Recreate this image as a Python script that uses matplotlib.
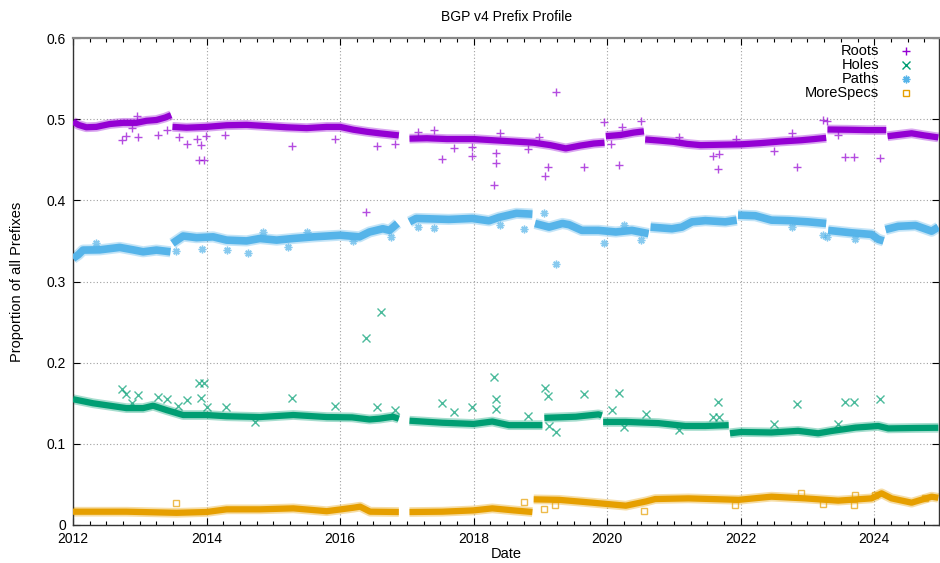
import numpy as np
import matplotlib
matplotlib.use("Agg")
import matplotlib.pyplot as plt
from matplotlib.ticker import MultipleLocator, FixedLocator

plt.rcParams['font.family'] = ['Liberation Sans', 'DejaVu Sans']

nan = np.nan

# main bands (decimal years); nan marks a break / step
roots_year = [2012.0, 2012.08, 2012.2, 2012.35, 2012.55, 2012.75, 2012.95, 2013.1, 2013.25, 2013.38, 2013.47, nan,
              2013.49, 2013.7, 2014.0, 2014.3, 2014.6, 2014.9, 2015.2, 2015.5, 2015.8, 2016.0, 2016.2, 2016.4, 2016.6, 2016.88, nan,
              2017.04, 2017.3, 2017.6, 2018.0, 2018.3, 2018.6, 2018.9, 2019.15, 2019.38, 2019.6, 2019.8, 2019.96, nan,
              2019.98, 2020.2, 2020.4, 2020.55, nan,
              2020.57, 2020.8, 2021.0, 2021.2, 2021.4, 2021.7, 2022.0, 2022.3, 2022.6, 2022.9, 2023.1, 2023.28, nan,
              2023.3, 2023.6, 2023.9, 2024.18, nan,
              2024.2, 2024.4, 2024.56, 2024.75, 2024.96]
roots_val = [0.497, 0.493, 0.490, 0.4905, 0.494, 0.4955, 0.4955, 0.498, 0.499, 0.502, 0.505, nan,
             0.4905, 0.4895, 0.4905, 0.4925, 0.493, 0.4915, 0.490, 0.489, 0.4905, 0.4905, 0.487, 0.4845, 0.4825, 0.480, nan,
             0.476, 0.4765, 0.4755, 0.4755, 0.474, 0.4725, 0.471, 0.468, 0.464, 0.4675, 0.470, 0.471, nan,
             0.479, 0.4805, 0.4835, 0.485, nan,
             0.475, 0.4735, 0.472, 0.4695, 0.468, 0.4685, 0.469, 0.4705, 0.4725, 0.474, 0.4755, 0.477, nan,
             0.4873, 0.487, 0.4865, 0.4865, nan,
             0.479, 0.481, 0.4826, 0.480, 0.4775]

paths_year = [2012.0, 2012.08, 2012.15, 2012.4, 2012.7, 2012.9, 2013.05, 2013.25, 2013.46, nan,
              2013.49, 2013.65, 2013.85, 2014.1, 2014.3, 2014.6, 2014.8, 2015.05, 2015.3, 2015.6, 2016.0, 2016.29, 2016.44, 2016.64, 2016.74, 2016.86, nan,
              2017.04, 2017.14, 2017.63, 2017.98, 2018.23, 2018.38, 2018.64, 2018.88, nan,
              2018.92, 2019.13, 2019.33, 2019.43, 2019.62, 2019.87, 2020.13, 2020.37, 2020.62, nan,
              2020.65, 2020.97, 2021.12, 2021.27, 2021.47, 2021.77, 2021.94, nan,
              2021.96, 2022.22, 2022.46, 2022.72, 2023.01, 2023.28, nan,
              2023.31, 2023.66, 2023.96, 2024.06, 2024.14, nan,
              2024.17, 2024.36, 2024.62, 2024.86, 2024.96]
paths_val = [0.3284, 0.333, 0.3387, 0.339, 0.342, 0.339, 0.3366, 0.3387, 0.3366, nan,
             0.347, 0.356, 0.354, 0.355, 0.351, 0.350, 0.353, 0.351, 0.353, 0.355, 0.357, 0.355, 0.361, 0.365, 0.363, 0.3715, nan,
             0.3735, 0.3777, 0.3765, 0.3777, 0.3748, 0.379, 0.384, 0.383, nan,
             0.3715, 0.367, 0.3715, 0.370, 0.363, 0.363, 0.361, 0.363, 0.359, nan,
             0.367, 0.365, 0.367, 0.3735, 0.375, 0.3735, 0.3756, nan,
             0.3818, 0.381, 0.3756, 0.375, 0.3735, 0.3715, nan,
             0.363, 0.360, 0.358, 0.352, 0.350, nan,
             0.364, 0.368, 0.369, 0.362, 0.367]

holes_year = [2012.0, 2012.3, 2012.55, 2012.8, 2013.05, 2013.2, 2013.4, 2013.65, 2014.0, 2014.3, 2014.8, 2015.3, 2015.8, 2016.18, 2016.44, 2016.59, 2016.79, 2016.88, nan,
              2017.04, 2017.53, 2018.0, 2018.28, 2018.53, 2019.03, nan,
              2019.06, 2019.53, 2019.87, 2019.92, nan,
              2019.94, 2020.28, 2020.77, 2021.17, 2021.47, 2021.82, nan,
              2021.84, 2022.01, 2022.46, 2022.86, 2023.16, 2023.36, 2023.72, 2024.06, 2024.21, 2024.6, 2024.96]
holes_val = [0.155, 0.150, 0.147, 0.144, 0.144, 0.147, 0.1416, 0.1355, 0.1355, 0.134, 0.133, 0.1355, 0.133, 0.1326, 0.130, 0.131, 0.1334, 0.131, nan,
             0.1285, 0.126, 0.1245, 0.1275, 0.123, 0.123, nan,
             0.132, 0.1334, 0.1363, 0.135, nan,
             0.127, 0.127, 0.1255, 0.122, 0.122, 0.123, nan,
             0.113, 0.1146, 0.114, 0.116, 0.113, 0.1158, 0.120, 0.122, 0.119, 0.1195, 0.1198]

more_year = [2012.0, 2012.8, 2013.55, 2014.0, 2014.3, 2014.8, 2015.3, 2015.8, 2016.2, 2016.3, 2016.45, 2016.88, nan,
             2017.04, 2017.53, 2018.0, 2018.28, 2018.6, 2018.88, nan,
             2018.9, 2019.28, 2019.78, 2020.28, 2020.58, 2020.72, 2021.22, 2021.97, 2022.46, 2022.96, 2023.46, 2023.96, 2024.11, 2024.26, 2024.56, 2024.86, 2024.96]
more_val = [0.0164, 0.0164, 0.015, 0.016, 0.0193, 0.0193, 0.0205, 0.017, 0.0213, 0.0226, 0.0164, 0.016, nan,
            0.016, 0.0164, 0.018, 0.0205, 0.018, 0.016, nan,
            0.0316, 0.031, 0.0275, 0.0238, 0.029, 0.032, 0.0328, 0.031, 0.0349, 0.0328, 0.030, 0.0328, 0.039, 0.0328, 0.0275, 0.0349, 0.0335]

# scattered single-day outliers
roots_out_year = [2012.74, 2012.8, 2012.98, 2012.88, 2012.96, 2013.27, 2013.41, 2013.59, 2013.7, 2013.85, 2013.91, 2013.89,
                  2013.96, 2013.99, 2014.28, 2015.28, 2015.92, 2016.56, 2016.39, 2016.83, 2017.17, 2017.4, 2017.52, 2017.7,
                  2017.97, 2017.98, 2018.31, 2018.33, 2018.33, 2018.39, 2018.82, 2018.98, 2019.07, 2019.11, 2019.23, 2019.66,
                  2019.96, 2020.06, 2020.17, 2020.22, 2020.51, 2021.08, 2021.58, 2021.67, 2021.66, 2021.93, 2022.5, 2022.77,
                  2022.84, 2023.23, 2023.3, 2023.46, 2023.56, 2023.69, 2024.08]
roots_out_val = [0.474, 0.479, 0.478, 0.4886, 0.5037, 0.481, 0.4865, 0.478, 0.469, 0.475, 0.468, 0.4495,
                 0.450, 0.479, 0.480, 0.4667, 0.476, 0.4667, 0.386, 0.470, 0.4844, 0.487, 0.4515, 0.464,
                 0.466, 0.4544, 0.4187, 0.4454, 0.4578, 0.4824, 0.463, 0.4775, 0.430, 0.4405, 0.533, 0.4405,
                 0.496, 0.4688, 0.4434, 0.4898, 0.4975, 0.478, 0.4548, 0.4565, 0.438, 0.476, 0.4606, 0.4824,
                 0.4405, 0.4988, 0.498, 0.480, 0.4528, 0.4528, 0.4524]

holes_out_year = [2012.74, 2012.8, 2012.98, 2012.89, 2013.27, 2013.41, 2013.58, 2013.7, 2013.89, 2013.96, 2013.91, 2014.0,
                  2014.29, 2014.72, 2015.28, 2015.92, 2016.39, 2016.62, 2016.56, 2016.83, 2017.52, 2017.7, 2017.98, 2018.31,
                  2018.33, 2018.33, 2018.82, 2019.07, 2019.11, 2019.13, 2019.23, 2019.66, 2020.07, 2020.17, 2020.25, 2020.58,
                  2021.08, 2021.58, 2021.67, 2021.66, 2022.5, 2022.84, 2023.46, 2023.56, 2023.69, 2024.08]
holes_out_val = [0.167, 0.1613, 0.160, 0.1506, 0.158, 0.1548, 0.147, 0.154, 0.1752, 0.1745, 0.156, 0.145,
                 0.145, 0.127, 0.1568, 0.1466, 0.231, 0.2627, 0.1457, 0.1416, 0.1506, 0.1388, 0.1457, 0.1826,
                 0.1548, 0.1429, 0.1342, 0.1683, 0.1589, 0.1223, 0.115, 0.162, 0.1416, 0.163, 0.121, 0.1363,
                 0.117, 0.1334, 0.1326, 0.1519, 0.1244, 0.1486, 0.124, 0.1519, 0.1519, 0.155]

paths_out_year = [2012.34, 2013.55, 2013.93, 2014.31, 2014.62, 2014.85, 2015.22, 2015.5, 2016.19, 2016.76, 2017.17, 2017.4,
                  2018.39, 2018.75, 2019.23, 2019.05, 2019.95, 2020.25, 2020.5, 2022.77, 2023.23, 2023.3, 2023.71]
paths_out_val = [0.3477, 0.3374, 0.3395, 0.3387, 0.3346, 0.3612, 0.3427, 0.3612, 0.3497, 0.355, 0.367, 0.366,
                 0.3695, 0.3645, 0.321, 0.384, 0.3477, 0.3695, 0.351, 0.3674, 0.357, 0.3543, 0.352]

more_out_year = [2013.55, 2018.75, 2019.05, 2019.22, 2020.55, 2021.92, 2022.91, 2023.24, 2023.69, 2023.71, 2024.01, 2024.76]
more_out_val = [0.0267, 0.0287, 0.0193, 0.0246, 0.0176, 0.0246, 0.039, 0.0259, 0.0246, 0.037, 0.037, 0.0328]

series = [
    ("Roots", "#9400D3", "+", roots_year, roots_val, roots_out_year, roots_out_val),
    ("Holes", "#009E73", "x", holes_year, holes_val, holes_out_year, holes_out_val),
    ("Paths", "#56B4E9", (8, 2, 0), paths_year, paths_val, paths_out_year, paths_out_val),
    ("MoreSpecs", "#E69F00", "s", more_year, more_val, more_out_year, more_out_val),
]
band_width = {"Roots": 4.5, "Holes": 4.5, "Paths": 5.5, "MoreSpecs": 4.5}

fig = plt.figure(figsize=(9.4, 5.63), dpi=100)
ax = fig.add_axes([73 / 940, (563 - 525) / 563, 866 / 940, 487 / 563])

for name, col, mk, yr, val, oyr, oval in series:
    # fuzzy edge + solid core, to look like the dense daily markers
    lw = band_width[name]
    ax.plot(yr, val, color=col, lw=lw + 2.5, alpha=0.35, solid_capstyle='butt', zorder=2)
    ax.plot(yr, val, color=col, lw=lw, solid_capstyle='butt', zorder=3)
    fill = 'none' if mk == 's' else col
    ax.plot(oyr, oval, ls='none', marker=mk, ms=5.5 if mk != 's' else 4.5, mew=1.0,
            color=col, mfc=fill, alpha=0.7, zorder=4)

ax.set_xlim(2012, 2024.97)
ax.set_ylim(0, 0.6)

ax.xaxis.set_major_locator(FixedLocator([2012, 2014, 2016, 2018, 2020, 2022, 2024]))
ax.xaxis.set_minor_locator(MultipleLocator(0.25))
ax.set_xticklabels(["2012", "2014", "2016", "2018", "2020", "2022", "2024"])
ax.set_yticks([0, 0.1, 0.2, 0.3, 0.4, 0.5, 0.6])
ax.set_yticklabels(["0", "0.1", "0.2", "0.3", "0.4", "0.5", "0.6"])

ax.tick_params(which='both', direction='in', top=True, right=True, labelsize=10, colors='black')
ax.tick_params(which='major', length=5, width=0.8)
ax.tick_params(which='minor', length=3, width=0.8)
ax.tick_params(axis='x', which='major', pad=5)
ax.tick_params(axis='y', which='major', pad=5)

ax.grid(True, which='major', color='#a0a0a0', linestyle=(0, (1, 2)), linewidth=0.8)
ax.set_axisbelow(True)

for s in ['left', 'bottom', 'right']:
    ax.spines[s].set_color('#333333')
    ax.spines[s].set_linewidth(1.0)
ax.spines['top'].set_color('#888888')
ax.spines['top'].set_linewidth(1.6)

ax.set_xlabel("Date", fontsize=10.5)
ax.xaxis.set_label_coords(0.5, -0.059)
ax.xaxis.label.set_va('center')
ax.set_ylabel("Proportion of all Prefixes", fontsize=10.5)
ax.yaxis.set_label_coords(-0.065, 0.5)
ax.yaxis.label.set_va('center')

fig.text(507 / 940, 1 - 17 / 563, "BGP v4 Prefix Profile", ha='center', va='center', fontsize=10)

# key, right-aligned text with symbols on the right
key_rows = [0.973, 0.945, 0.916, 0.887]
for (name, col, mk, *_), ky in zip(series, key_rows):
    ax.text(0.931, ky, name, transform=ax.transAxes, ha='right', va='center', fontsize=10.5)
    fill = 'none' if mk == 's' else col
    ax.plot([0.962], [ky], transform=ax.transAxes, ls='none', marker=mk,
            ms=5.5 if mk != 's' else 4.5, mew=1.0, color=col, mfc=fill, clip_on=False)

fig.savefig("out.png", dpi=100)
